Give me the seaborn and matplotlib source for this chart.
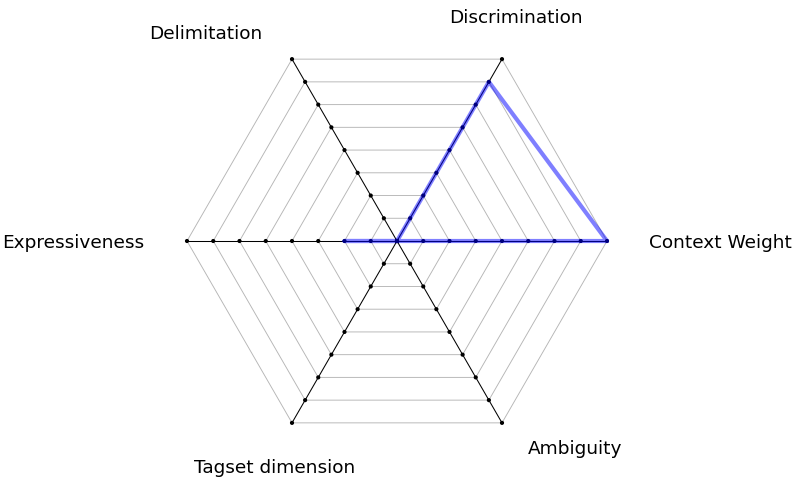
import numpy as np
import pandas as pd
import matplotlib
matplotlib.use("Agg")
import matplotlib.pyplot as plt
import seaborn as sns

# data (scale 0..8)
dimensions = ["Context Weight", "Discrimination", "Delimitation",
              "Expressiveness", "Tagset dimension", "Ambiguity"]
scores = [8, 7, 0, 2, 0, 0]
levels = [0, 1, 2, 3, 4, 5, 6, 7, 8]

sns.set_theme(style="white")
plt.rcParams["font.family"] = ["DejaVu Sans"]

n = len(dimensions)
angles = np.arange(n) * 2 * np.pi / n
closed = np.append(angles, angles[0])

fig = plt.figure(figsize=(8, 4.81), dpi=100)
ax = fig.add_axes([187 / 800, 29 / 481, 420 / 800, 420 / 481], projection="polar")
ax.set_ylim(0, max(levels))
ax.grid(False)
ax.spines["polar"].set_visible(False)
ax.set_xticks([])
ax.set_yticks([])
ax.patch.set_alpha(0)

# hexagonal rings
for k in levels[1:]:
    ax.plot(closed, [k] * len(closed), color="#b5b5b5", lw=0.65, clip_on=False, zorder=1)

# spokes + level dots
for a in angles:
    ax.plot([a, a], [0, max(levels)], color="black", lw=0.75, clip_on=False, zorder=2)
dots = pd.DataFrame([(a, k) for a in angles for k in levels], columns=["theta", "r"])
sns.scatterplot(data=dots, x="theta", y="r", ax=ax, color="black", s=9,
                edgecolor="none", clip_on=False, zorder=3)

# score polygon
poly = pd.DataFrame({"theta": closed, "r": scores + scores[:1]})
sns.lineplot(data=poly, x="theta", y="r", ax=ax, sort=False, estimator=None,
             color="blue", alpha=0.5, lw=3, clip_on=False, zorder=4)
ax.set_xlabel("")
ax.set_ylabel("")

# label placement: offset in px from the outer end of each spoke
label_offsets = [(42, -1, "left"), (14, 42, "center"), (-86, 26, "center"),
                 (-43, -1, "right"), (-17, -44, "center"), (73, -25, "center")]
for name, a, (dx, dy, ha) in zip(dimensions, angles, label_offsets):
    ax.annotate(name, xy=(a, max(levels)), xytext=(dx * 0.72, dy * 0.72),
                textcoords="offset points", ha=ha, va="center", fontsize=13.3,
                color="black", annotation_clip=False)

fig.savefig("out.png", dpi=100)
